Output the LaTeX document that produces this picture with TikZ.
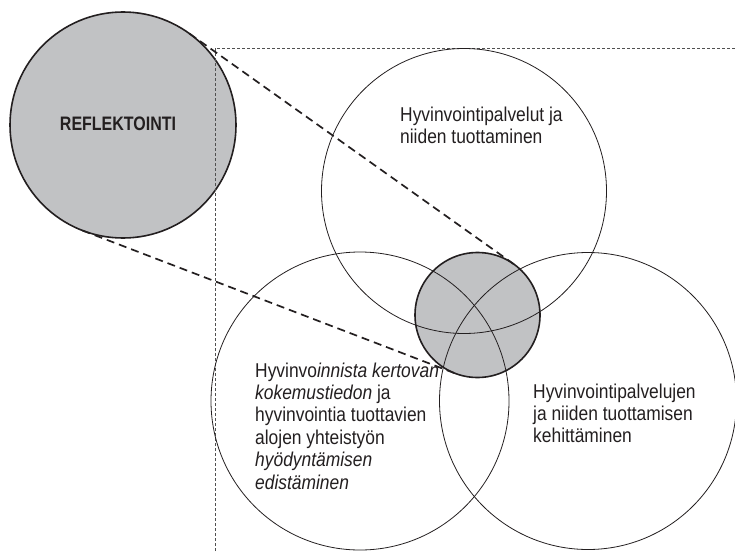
\documentclass[tikz,border=0pt]{standalone}
\usepackage{fontspec}
\setmainfont{Liberation Sans}[FakeStretch=0.87]
\newfontfamily\headfont{Liberation Sans}[FakeStretch=0.82]
\definecolor{ink}{HTML}{231F20}
\definecolor{shade}{HTML}{C1C2C4}
\definecolor{framegrey}{HTML}{505050}

\begin{document}
\begin{tikzpicture}[x=1pt,y=-1pt,
  area/.style={circle, draw=ink, line width=0.8pt, minimum size=#1pt, inner sep=0pt, outer sep=0pt},
  disc/.style={circle, fill=shade, minimum size=#1pt, inner sep=0pt, outer sep=0pt},
  ring/.style={circle, draw=ink, line width=1.6pt, minimum size=#1pt, inner sep=0pt, outer sep=0pt},
  link/.style={draw=ink, line width=1.7pt, dash pattern=on 8pt off 5pt},
  frameline/.style={draw=framegrey, line width=0.8pt, dash pattern=on 3pt off 2pt},
  label/.style={anchor=north west, inner sep=0pt, align=left, text=ink,
                font=\fontsize{20}{22.4}\selectfont},
]
\useasboundingbox (0,0) rectangle (735,551);

% reflection circle on the left
\node[disc=226] (refl) at (123,125) {};
\node[ring=226] (reflRing) at (refl) {};
\node[text=ink, font=\headfont\fontsize{19.5}{22}\selectfont\bfseries] (reflLabel) at (118,124) {REFLEKTOINTI};

% dashed frame around the three fields
\coordinate (frameBL) at (215,551);
\coordinate (frameTL) at (215,48);
\coordinate (frameTR) at (735,48);
\draw[frameline] (frameBL) -- (frameTL) -- (frameTR);

% shared core fill
\node[disc=125] (core) at (477.5,315) {};

% the three fields
\node[area=285] (services) at (464,191) {};
\node[area=298] (experience) at (360,401) {};
\node[area=297] (development) at (588,401) {};

% core outline on top
\node[ring=125] (coreRing) at (core) {};

% tangent links between reflection and core
\draw[link] (refl.54.6) -- (core.54.6);
\draw[link] (refl.249.2) -- (core.249.2);

% texts
\node[label] (servicesText) at (400,106.5) {Hyvinvointipalvelut ja\\niiden tuottaminen};
\node[label] (experienceText) at (255,362.5) {Hyvinvo\textit{innista kertovan}\\\textit{kokemustiedon} ja\\hyvinvointia tuottavien\\alojen yhteistyön\\\textit{hyödyntämisen}\\\textit{edistäminen}};
\node[label] (developmentText) at (533,383.5) {Hyvinvointipalvelujen\\ja niiden tuottamisen\\kehittäminen};
\end{tikzpicture}
\end{document}
